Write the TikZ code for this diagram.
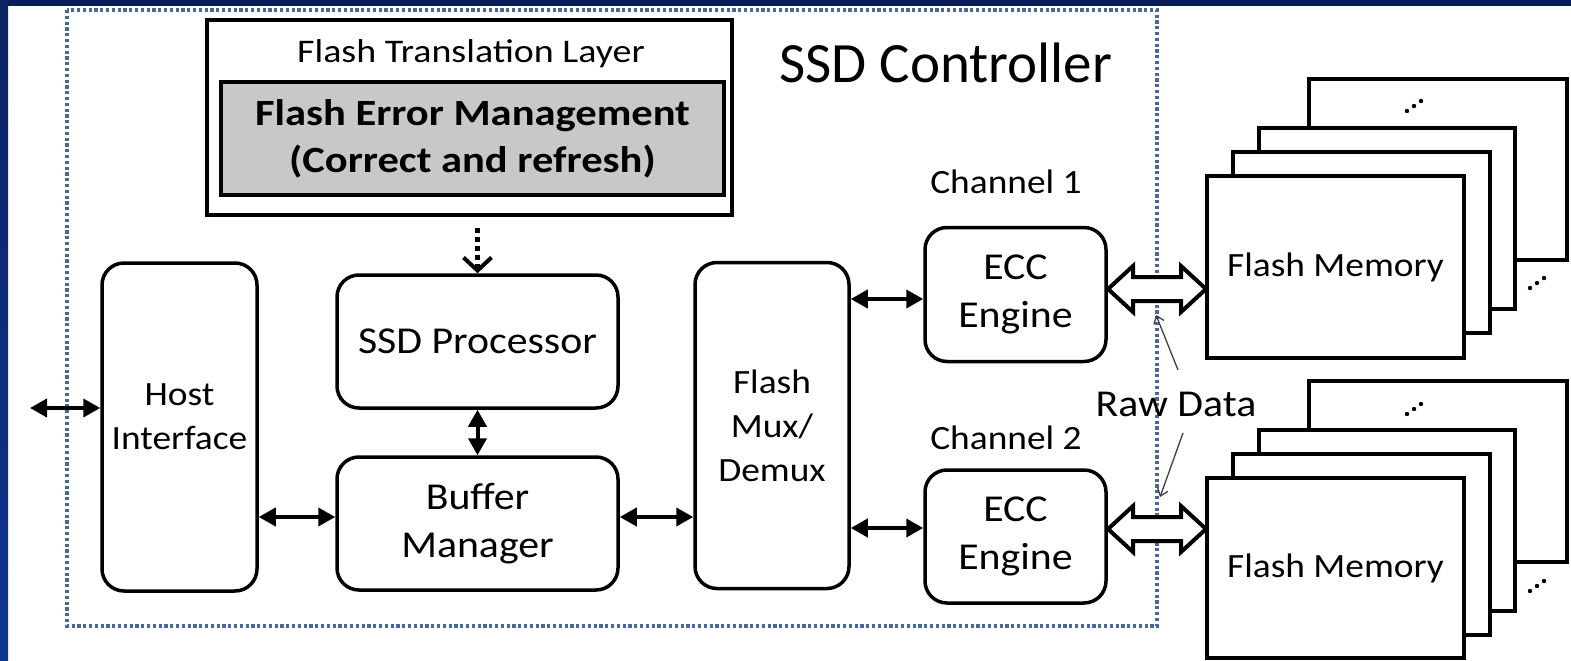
\documentclass[tikz,border=0pt]{standalone}
\usepackage{fontspec}
\setmainfont{Carlito}
\newfontfamily\calw[FakeStretch=1.1]{Carlito}
\newfontfamily\calww[FakeStretch=1.15]{Carlito}
\usetikzlibrary{arrows.meta,calc}
\definecolor{navybar}{HTML}{0A1F57}
\definecolor{bartop}{HTML}{0B2462}
\definecolor{barbot}{HTML}{0F3590}
\definecolor{dotblue}{HTML}{46699A}
\definecolor{femgray}{HTML}{C8C8C8}
\newcommand\hollowdbl[3]{%
  \draw[hollowarr] (#1,#3) -- (#1+25,#3-23) -- (#1+25,#3-12) -- (#2-25,#3-12) -- (#2-25,#3-23) -- (#2,#3)
   -- (#2-25,#3+23) -- (#2-25,#3+12) -- (#1+25,#3+12) -- (#1+25,#3+23) -- cycle;}
\newcommand\stackdots[2]{%
  \fill (#1-7,#2+5) circle (2.2pt) (#1,#2) circle (2.2pt) (#1+7,#2-5) circle (2.2pt);}
\begin{document}
\begin{tikzpicture}[x=1pt,y=-1pt,
  box/.style={draw, line width=3.5pt, rounded corners=22pt, fill=white, inner sep=0pt, align=center},
  memrect/.style={draw, line width=4pt, fill=white},
  t38/.style={font=\calw\fontsize{38}{48}\selectfont},
  t34/.style={font=\calw\fontsize{34}{44}\selectfont},
  dblarr/.style={line width=4pt, {Triangle[length=17pt,width=18pt]}-{Triangle[length=17pt,width=18pt]}},
  hollowarr/.style={draw, line width=4pt, fill=white, line join=miter},
  thinarr/.style={draw=black!75, line width=1.3pt, -{Straight Barb[length=7pt,width=11pt]}},
  ctrlborder/.style={draw=dotblue, line width=3.5pt, dash pattern=on 3.2pt off 2.6pt}
]
\useasboundingbox (0,0) rectangle (1571,661);
\fill[white] (0,0) rectangle (1571,661);
\fill[navybar] (0,0) rectangle (1571,6);
\shade[top color=bartop, bottom color=barbot] (0,0) rectangle (8,661);

% SSD controller border
\draw[ctrlborder] (67,10) rectangle (1157,626);
\node[font=\fontsize{57}{68}\selectfont, anchor=base, inner sep=0pt] (ctrl) at (946,82) {SSD Controller};

% FTL
\node[draw, line width=4pt, fill=white, minimum width=525pt, minimum height=195pt, inner sep=0pt] (ftl) at (469.5,117.5) {};
\node[font=\calww\fontsize{33}{40}\selectfont, anchor=base, inner sep=0pt] (ftltitle) at (471,63) {Flash Translation Layer};
\node[draw, line width=4pt, fill=femgray, minimum width=503pt, minimum height=113pt, inner sep=0pt, align=center,
  font=\calww\bfseries\fontsize{37}{47}\selectfont] (fem) at (472.5,138.5) {Flash Error Management\\(Correct and refresh)};

% blocks
\node[box, minimum width=155pt, minimum height=328pt] (host) at (179.5,427) {};
\node[t34, align=center] (hosttxt) at ([yshift=10pt]host.center) {Host\\Interface};
\node[box, t38, minimum width=281pt, minimum height=133pt] (proc) at (477.5,341.5) {SSD Processor};
\node[box, t38, minimum width=281pt, minimum height=133pt] (buf) at (477.5,523.5) {Buffer\\Manager};
\node[box, t34, minimum width=154pt, minimum height=326pt] (mux) at (772,425.5) {Flash\\Mux/\\Demux};
\node[box, t38, minimum width=181pt, minimum height=134pt] (ecc1) at (1015.5,294.5) {ECC\\Engine};
\node[box, t38, minimum width=181pt, minimum height=133pt] (ecc2) at (1015.5,536.5) {ECC\\Engine};
\node[t34, anchor=base, inner sep=0pt] (ch1) at (1006,193) {Channel 1};
\node[t34, anchor=base, inner sep=0pt] (ch2) at (1006,449) {Channel 2};

% flash memory stack 1
\draw[memrect] (1309,79) rectangle (1567,260);
\draw[memrect] (1259,128) rectangle (1515,309);
\draw[memrect] (1233,152) rectangle (1490,333);
\node[memrect, t34, minimum width=257pt, minimum height=182pt, inner sep=0pt] (mem1) at (1335.5,267) {Flash Memory};
\stackdots{1414}{106}
\stackdots{1537}{283}

% flash memory stack 2
\draw[memrect] (1309,381) rectangle (1567,562);
\draw[memrect] (1259,430) rectangle (1515,611);
\draw[memrect] (1233,454) rectangle (1490,635);
\node[memrect, t34, minimum width=257pt, minimum height=180pt, inner sep=0pt] (mem2) at (1335.5,568) {Flash Memory};
\stackdots{1414}{409}
\stackdots{1537}{586}

% connectors
\coordinate (ext) at (30,408);
\draw[dblarr] (ext) -- (host.west |- ext);
\draw[dblarr] (host.east |- 0,517) -- (buf.west |- 0,517);
\draw[dblarr] (proc.south) -- (buf.north);
\draw[dblarr] (buf.east |- 0,517) -- (mux.west |- 0,517);
\draw[dblarr] (mux.east |- 0,299) -- (ecc1.west |- 0,299);
\draw[dblarr] (mux.east |- 0,528) -- (ecc2.west |- 0,528);
\draw[line width=5pt, dash pattern=on 5pt off 4pt,
  -{Straight Barb[length=13pt,width=28pt,line width=4pt]}] (proc.north |- 0,228) -- (proc.north);

% hollow channel arrows
\hollowdbl{1108}{1206}{289}
\hollowdbl{1108}{1206}{529}

% raw data
\node[t38, anchor=base, inner sep=0pt] (raw) at (1176,416) {Raw Data};
\coordinate (rawt1) at (1178,370);
\coordinate (rawh1) at (1156,315);
\coordinate (rawt2) at (1183,433);
\coordinate (rawh2) at (1160,497);
\draw[thinarr] (rawt1) -- (rawh1);
\draw[thinarr] (rawt2) -- (rawh2);
\end{tikzpicture}
\end{document}
